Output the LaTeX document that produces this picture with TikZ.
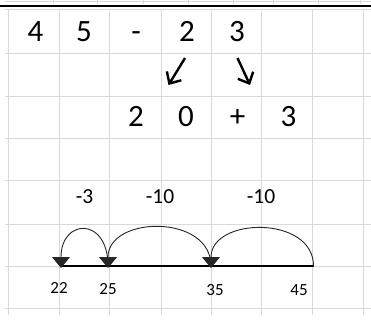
\documentclass[tikz,border=0pt]{standalone}
\usepackage{fontspec}
\setmainfont{Carlito}
\usetikzlibrary{arrows.meta}
\definecolor{gridc}{HTML}{D9D9D9}
\tikzset{
  gridline/.style={draw=gridc, line width=1pt},
  bigtxt/.style={anchor=base, inner sep=0pt, font=\fontsize{31}{31}\selectfont},
  jumptxt/.style={anchor=base, inner sep=0pt, font=\fontsize{21.5}{21.5}\selectfont},
  numtxt/.style={anchor=base, inner sep=0pt, font=\fontsize{17}{17}\selectfont},
  splitarrow/.style={line width=2.4pt, -{Straight Barb[length=9pt,width=17pt]}},
  jump/.style={draw=black!85, line width=0.9pt, -{Triangle[length=11pt,width=18pt]}},
  numline/.style={line width=1.4pt}
}
\begin{document}
\begin{tikzpicture}[x=1pt,y=-1pt]
\useasboundingbox (0,0) rectangle (371,326);
\fill[white] (0,0) rectangle (371,326);
% top strip
\draw[gridline] (5,1.5) -- (371,1.5);
\foreach \x in {53,97,143,188,233,273,318,360} \draw[gridline] (\x,0) -- (\x,4);
\draw[line width=2pt] (0,5.7) -- (371,5.7);
% grid
\foreach \y in {10,53.3,96.7,138.3,180.7,224,266.7,308.3} \draw[gridline] (5,\y) -- (371,\y);
\foreach \x in {8.3,59.3,109.3,161,211,261.7,312.7,363.3} \draw[gridline] (\x,10) -- (\x,315);
% row 1
\node[bigtxt] (a4) at (35.5,41.7) {4};
\node[bigtxt] (a5) at (84,41.7) {5};
\node[bigtxt] (am) at (136,41.7) {-};
\node[bigtxt] (a2) at (187,41.7) {2};
\node[bigtxt] (a3) at (237,41.7) {3};
% arrows
\coordinate (l1) at (185,58);
\coordinate (l2) at (168.5,85);
\coordinate (r1) at (237.5,58);
\coordinate (r2) at (250,85);
\draw[splitarrow] (l1) -- (l2);
\draw[splitarrow] (r1) -- (r2);
% row 3
\node[bigtxt] (b2) at (136,126.7) {2};
\node[bigtxt] (b0) at (186,126.7) {0};
\node[bigtxt] (bp) at (237.5,126.7) {+};
\node[bigtxt] (b3) at (288.5,126.7) {3};
% jump labels
\node[jumptxt] (j3) at (84.5,203.7) {-3};
\node[jumptxt] (j10a) at (160,203.7) {-10};
\node[jumptxt] (j10b) at (261,203.7) {-10};
% number line
\coordinate (p22) at (61,266);
\coordinate (p25) at (108,266);
\coordinate (p35) at (211,266);
\coordinate (p45) at (313.5,266);
\coordinate (t22) at (61,268);
\coordinate (t25) at (108,268);
\coordinate (t35) at (211,268);
\draw[numline] (p22) -- (p45);
\draw[jump] (p45) to[out=90,in=90,looseness=1.27] (t35);
\draw[jump] (p35) to[out=90,in=90,looseness=1.3] (t25);
\draw[jump] (p25) to[out=90,in=90,looseness=2.7] (t22);
\node[numtxt] (n22) at (59,293.3) {22};
\node[numtxt] (n25) at (108,294) {25};
\node[numtxt] (n35) at (215,295) {35};
\node[numtxt] (n45) at (299,295) {45};
\end{tikzpicture}
\end{document}
